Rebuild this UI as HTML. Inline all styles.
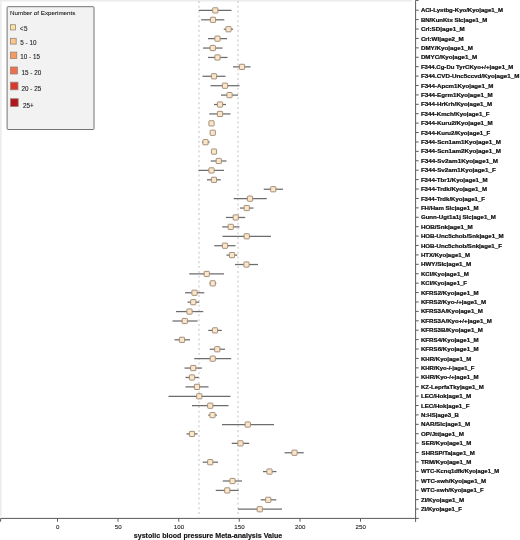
<!DOCTYPE html>
<html><head><meta charset="utf-8"><title>systolic blood pressure Meta-analysis</title>
<style>
html,body{margin:0;padding:0;background:#fff;}
body{width:520px;height:540px;overflow:hidden;}
svg{display:block;}
text{font-family:"Liberation Sans",Arial,Helvetica,sans-serif;fill:#222;}
.lb{font-size:6.0px;font-weight:bold;fill:#111;stroke:#111;stroke-width:0.24px;}
.tk{font-size:6.1px;fill:#222;stroke:#222;stroke-width:0.1px;}
.lg{font-size:6.3px;fill:#1c1c1c;stroke:#1c1c1c;stroke-width:0.1px;}
.ti{font-size:7.1px;font-weight:bold;fill:#111;stroke:#111;stroke-width:0.15px;}
.ci{stroke:#6c6c6c;stroke-width:1.25;}
.bx{fill:#fce6c9;stroke:#a48f7a;stroke-width:1;}
.ax{stroke:#5a5a5a;stroke-width:1;fill:none;}
.dt{stroke:#c4c4c4;stroke-width:1.05;stroke-dasharray:2 2.822;}
</style></head><body>
<svg width="520" height="540" viewBox="0 0 520 540">
<rect x="0" y="0" width="520" height="540" fill="#fff"/>
<rect x="0" y="0" width="412" height="1.5" fill="#ececec"/>
<rect x="0" y="0" width="1.6" height="516.5" fill="#ececec"/>

<line class="dt" x1="199" y1="0.9" x2="199" y2="517"/>
<line class="dt" x1="238" y1="0.9" x2="238" y2="517"/>
<line class="ci" x1="198.80" y1="10.40" x2="231.50" y2="10.40"/>
<rect class="bx" x="212.70" y="7.80" width="5.2" height="5.2" rx="0.6"/>
<line class="ci" x1="201.20" y1="19.81" x2="224.30" y2="19.81"/>
<rect class="bx" x="210.40" y="17.21" width="5.2" height="5.2" rx="0.6"/>
<line class="ci" x1="223.80" y1="29.22" x2="233.00" y2="29.22"/>
<rect class="bx" x="225.90" y="26.62" width="5.2" height="5.2" rx="0.6"/>
<line class="ci" x1="208.00" y1="38.64" x2="227.00" y2="38.64"/>
<rect class="bx" x="214.90" y="36.04" width="5.2" height="5.2" rx="0.6"/>
<line class="ci" x1="203.00" y1="48.05" x2="222.50" y2="48.05"/>
<rect class="bx" x="210.15" y="45.45" width="5.2" height="5.2" rx="0.6"/>
<line class="ci" x1="208.00" y1="57.46" x2="227.50" y2="57.46"/>
<rect class="bx" x="214.90" y="54.86" width="5.2" height="5.2" rx="0.6"/>
<line class="ci" x1="233.00" y1="66.87" x2="250.50" y2="66.87"/>
<rect class="bx" x="239.40" y="64.27" width="5.2" height="5.2" rx="0.6"/>
<line class="ci" x1="202.50" y1="76.28" x2="225.50" y2="76.28"/>
<rect class="bx" x="211.40" y="73.68" width="5.2" height="5.2" rx="0.6"/>
<line class="ci" x1="210.50" y1="85.70" x2="239.50" y2="85.70"/>
<rect class="bx" x="222.40" y="83.10" width="5.2" height="5.2" rx="0.6"/>
<line class="ci" x1="221.00" y1="95.11" x2="238.00" y2="95.11"/>
<rect class="bx" x="226.90" y="92.51" width="5.2" height="5.2" rx="0.6"/>
<line class="ci" x1="214.00" y1="104.52" x2="226.00" y2="104.52"/>
<rect class="bx" x="217.40" y="101.92" width="5.2" height="5.2" rx="0.6"/>
<line class="ci" x1="209.25" y1="113.93" x2="230.50" y2="113.93"/>
<rect class="bx" x="217.40" y="111.33" width="5.2" height="5.2" rx="0.6"/>
<rect class="bx" x="208.90" y="120.74" width="5.2" height="5.2" rx="0.6"/>
<rect class="bx" x="210.15" y="130.16" width="5.2" height="5.2" rx="0.6"/>
<line class="ci" x1="201.90" y1="142.17" x2="209.60" y2="142.17"/>
<rect class="bx" x="202.90" y="139.57" width="5.2" height="5.2" rx="0.6"/>
<rect class="bx" x="211.40" y="148.98" width="5.2" height="5.2" rx="0.6"/>
<line class="ci" x1="210.75" y1="160.99" x2="226.50" y2="160.99"/>
<rect class="bx" x="216.15" y="158.39" width="5.2" height="5.2" rx="0.6"/>
<line class="ci" x1="198.50" y1="170.40" x2="224.00" y2="170.40"/>
<rect class="bx" x="208.90" y="167.80" width="5.2" height="5.2" rx="0.6"/>
<line class="ci" x1="207.00" y1="179.82" x2="220.75" y2="179.82"/>
<rect class="bx" x="211.40" y="177.22" width="5.2" height="5.2" rx="0.6"/>
<line class="ci" x1="263.75" y1="189.23" x2="283.00" y2="189.23"/>
<rect class="bx" x="270.65" y="186.63" width="5.2" height="5.2" rx="0.6"/>
<line class="ci" x1="233.75" y1="198.64" x2="266.75" y2="198.64"/>
<rect class="bx" x="247.40" y="196.04" width="5.2" height="5.2" rx="0.6"/>
<line class="ci" x1="240.00" y1="208.05" x2="253.50" y2="208.05"/>
<rect class="bx" x="244.15" y="205.45" width="5.2" height="5.2" rx="0.6"/>
<line class="ci" x1="226.00" y1="217.46" x2="245.25" y2="217.46"/>
<rect class="bx" x="233.15" y="214.86" width="5.2" height="5.2" rx="0.6"/>
<line class="ci" x1="222.25" y1="226.88" x2="239.50" y2="226.88"/>
<rect class="bx" x="228.15" y="224.28" width="5.2" height="5.2" rx="0.6"/>
<line class="ci" x1="222.50" y1="236.29" x2="271.00" y2="236.29"/>
<rect class="bx" x="244.15" y="233.69" width="5.2" height="5.2" rx="0.6"/>
<line class="ci" x1="214.25" y1="245.70" x2="235.50" y2="245.70"/>
<rect class="bx" x="222.40" y="243.10" width="5.2" height="5.2" rx="0.6"/>
<line class="ci" x1="226.50" y1="255.11" x2="237.25" y2="255.11"/>
<rect class="bx" x="229.40" y="252.51" width="5.2" height="5.2" rx="0.6"/>
<line class="ci" x1="235.00" y1="264.52" x2="258.00" y2="264.52"/>
<rect class="bx" x="243.90" y="261.92" width="5.2" height="5.2" rx="0.6"/>
<line class="ci" x1="189.25" y1="273.94" x2="224.00" y2="273.94"/>
<rect class="bx" x="204.15" y="271.34" width="5.2" height="5.2" rx="0.6"/>
<line class="ci" x1="209.50" y1="283.35" x2="216.25" y2="283.35"/>
<rect class="bx" x="210.15" y="280.75" width="5.2" height="5.2" rx="0.6"/>
<line class="ci" x1="185.00" y1="292.76" x2="204.25" y2="292.76"/>
<rect class="bx" x="191.90" y="290.16" width="5.2" height="5.2" rx="0.6"/>
<line class="ci" x1="187.50" y1="302.17" x2="199.25" y2="302.17"/>
<rect class="bx" x="190.65" y="299.57" width="5.2" height="5.2" rx="0.6"/>
<line class="ci" x1="176.00" y1="311.58" x2="203.25" y2="311.58"/>
<rect class="bx" x="186.90" y="308.98" width="5.2" height="5.2" rx="0.6"/>
<line class="ci" x1="172.50" y1="321.00" x2="197.50" y2="321.00"/>
<rect class="bx" x="182.15" y="318.40" width="5.2" height="5.2" rx="0.6"/>
<line class="ci" x1="208.25" y1="330.41" x2="221.75" y2="330.41"/>
<rect class="bx" x="212.40" y="327.81" width="5.2" height="5.2" rx="0.6"/>
<line class="ci" x1="174.50" y1="339.82" x2="190.00" y2="339.82"/>
<rect class="bx" x="179.40" y="337.22" width="5.2" height="5.2" rx="0.6"/>
<line class="ci" x1="209.75" y1="349.23" x2="225.00" y2="349.23"/>
<rect class="bx" x="214.65" y="346.63" width="5.2" height="5.2" rx="0.6"/>
<line class="ci" x1="194.25" y1="358.64" x2="231.25" y2="358.64"/>
<rect class="bx" x="210.15" y="356.04" width="5.2" height="5.2" rx="0.6"/>
<line class="ci" x1="184.50" y1="368.06" x2="202.00" y2="368.06"/>
<rect class="bx" x="190.65" y="365.46" width="5.2" height="5.2" rx="0.6"/>
<line class="ci" x1="185.50" y1="377.47" x2="198.75" y2="377.47"/>
<rect class="bx" x="189.40" y="374.87" width="5.2" height="5.2" rx="0.6"/>
<line class="ci" x1="185.50" y1="386.88" x2="208.50" y2="386.88"/>
<rect class="bx" x="194.40" y="384.28" width="5.2" height="5.2" rx="0.6"/>
<line class="ci" x1="168.50" y1="396.29" x2="230.50" y2="396.29"/>
<rect class="bx" x="196.65" y="393.69" width="5.2" height="5.2" rx="0.6"/>
<line class="ci" x1="192.00" y1="405.70" x2="228.50" y2="405.70"/>
<rect class="bx" x="207.65" y="403.10" width="5.2" height="5.2" rx="0.6"/>
<line class="ci" x1="208.25" y1="415.12" x2="217.00" y2="415.12"/>
<rect class="bx" x="209.90" y="412.52" width="5.2" height="5.2" rx="0.6"/>
<line class="ci" x1="222.00" y1="424.53" x2="274.00" y2="424.53"/>
<rect class="bx" x="245.15" y="421.93" width="5.2" height="5.2" rx="0.6"/>
<line class="ci" x1="186.50" y1="433.94" x2="197.50" y2="433.94"/>
<rect class="bx" x="189.40" y="431.34" width="5.2" height="5.2" rx="0.6"/>
<line class="ci" x1="231.75" y1="443.35" x2="249.25" y2="443.35"/>
<rect class="bx" x="237.90" y="440.75" width="5.2" height="5.2" rx="0.6"/>
<line class="ci" x1="284.50" y1="452.76" x2="303.75" y2="452.76"/>
<rect class="bx" x="291.90" y="450.16" width="5.2" height="5.2" rx="0.6"/>
<line class="ci" x1="202.75" y1="462.18" x2="218.00" y2="462.18"/>
<rect class="bx" x="207.65" y="459.58" width="5.2" height="5.2" rx="0.6"/>
<line class="ci" x1="263.00" y1="471.59" x2="276.50" y2="471.59"/>
<rect class="bx" x="266.90" y="468.99" width="5.2" height="5.2" rx="0.6"/>
<line class="ci" x1="222.75" y1="481.00" x2="242.00" y2="481.00"/>
<rect class="bx" x="229.90" y="478.40" width="5.2" height="5.2" rx="0.6"/>
<line class="ci" x1="215.75" y1="490.41" x2="238.75" y2="490.41"/>
<rect class="bx" x="224.65" y="487.81" width="5.2" height="5.2" rx="0.6"/>
<line class="ci" x1="260.75" y1="499.82" x2="276.25" y2="499.82"/>
<rect class="bx" x="265.65" y="497.22" width="5.2" height="5.2" rx="0.6"/>
<line class="ci" x1="238.00" y1="509.24" x2="282.00" y2="509.24"/>
<rect class="bx" x="257.15" y="506.64" width="5.2" height="5.2" rx="0.6"/>
<path class="ax" d="M0.6 521.7V518.4H418.8"/>
<path class="ax" d="M418.6 0.4H415.6V521.9"/>
<line class="ax" x1="57.5" y1="518.4" x2="57.5" y2="521.7"/>
<text class="tk" x="57.7" y="528.5" text-anchor="middle">0</text>
<line class="ax" x1="118" y1="518.4" x2="118" y2="521.7"/>
<text class="tk" x="118.2" y="528.5" text-anchor="middle">50</text>
<line class="ax" x1="178.75" y1="518.4" x2="178.75" y2="521.7"/>
<text class="tk" x="178.95" y="528.5" text-anchor="middle">100</text>
<line class="ax" x1="239.25" y1="518.4" x2="239.25" y2="521.7"/>
<text class="tk" x="239.45" y="528.5" text-anchor="middle">150</text>
<line class="ax" x1="300" y1="518.4" x2="300" y2="521.7"/>
<text class="tk" x="300.2" y="528.5" text-anchor="middle">200</text>
<line class="ax" x1="360.5" y1="518.4" x2="360.5" y2="521.7"/>
<text class="tk" x="360.7" y="528.5" text-anchor="middle">250</text>
<line class="ax" x1="415.6" y1="10.20" x2="418.7" y2="10.20"/>
<text class="lb" x="420.9" y="12.30" textLength="82.1" lengthAdjust="spacingAndGlyphs">ACI-Lystbg-Kyo/Kyo|age1_M</text>
<line class="ax" x1="415.6" y1="19.61" x2="418.7" y2="19.61"/>
<text class="lb" x="420.9" y="21.71" textLength="66.4" lengthAdjust="spacingAndGlyphs">BN/KunKts Slc|age1_M</text>
<line class="ax" x1="415.6" y1="29.02" x2="418.7" y2="29.02"/>
<text class="lb" x="420.9" y="31.12" textLength="43.9" lengthAdjust="spacingAndGlyphs">Crl:SD|age1_M</text>
<line class="ax" x1="415.6" y1="38.44" x2="418.7" y2="38.44"/>
<text class="lb" x="420.9" y="40.54" textLength="42.8" lengthAdjust="spacingAndGlyphs">Crl:WI|age2_M</text>
<line class="ax" x1="415.6" y1="47.85" x2="418.7" y2="47.85"/>
<text class="lb" x="420.9" y="49.95" textLength="52.0" lengthAdjust="spacingAndGlyphs">DMY/Kyo|age1_M</text>
<line class="ax" x1="415.6" y1="57.26" x2="418.7" y2="57.26"/>
<text class="lb" x="420.9" y="59.36" textLength="56.2" lengthAdjust="spacingAndGlyphs">DMYC/Kyo|age1_M</text>
<line class="ax" x1="415.6" y1="66.67" x2="418.7" y2="66.67"/>
<text class="lb" x="420.9" y="68.77" textLength="92.5" lengthAdjust="spacingAndGlyphs">F344.Cg-Du TyrCKyo+/+|age1_M</text>
<line class="ax" x1="415.6" y1="76.08" x2="418.7" y2="76.08"/>
<text class="lb" x="420.9" y="78.18" textLength="98.5" lengthAdjust="spacingAndGlyphs">F344.CVD-Unc5ccvd/Kyo|age1_M</text>
<line class="ax" x1="415.6" y1="85.50" x2="418.7" y2="85.50"/>
<text class="lb" x="420.9" y="87.60" textLength="72.6" lengthAdjust="spacingAndGlyphs">F344-Apcm1Kyo|age1_M</text>
<line class="ax" x1="415.6" y1="94.91" x2="418.7" y2="94.91"/>
<text class="lb" x="420.9" y="97.01" textLength="71.7" lengthAdjust="spacingAndGlyphs">F344-Egrm1Kyo|age1_M</text>
<line class="ax" x1="415.6" y1="104.32" x2="418.7" y2="104.32"/>
<text class="lb" x="420.9" y="106.42" textLength="71.2" lengthAdjust="spacingAndGlyphs">F344-HrKrh/Kyo|age1_M</text>
<line class="ax" x1="415.6" y1="113.73" x2="418.7" y2="113.73"/>
<text class="lb" x="420.9" y="115.83" textLength="68.5" lengthAdjust="spacingAndGlyphs">F344-Kmch/Kyo|age1_F</text>
<line class="ax" x1="415.6" y1="123.14" x2="418.7" y2="123.14"/>
<text class="lb" x="420.9" y="125.24" textLength="71.7" lengthAdjust="spacingAndGlyphs">F344-Kuru2/Kyo|age1_M</text>
<line class="ax" x1="415.6" y1="132.56" x2="418.7" y2="132.56"/>
<text class="lb" x="420.9" y="134.66" textLength="69.4" lengthAdjust="spacingAndGlyphs">F344-Kuru2/Kyo|age1_F</text>
<line class="ax" x1="415.6" y1="141.97" x2="418.7" y2="141.97"/>
<text class="lb" x="420.9" y="144.07" textLength="80.0" lengthAdjust="spacingAndGlyphs">F344-Scn1am1Kyo|age1_M</text>
<line class="ax" x1="415.6" y1="151.38" x2="418.7" y2="151.38"/>
<text class="lb" x="420.9" y="153.48" textLength="80.0" lengthAdjust="spacingAndGlyphs">F344-Scn1am2Kyo|age1_M</text>
<line class="ax" x1="415.6" y1="160.79" x2="418.7" y2="160.79"/>
<text class="lb" x="420.9" y="162.89" textLength="77.0" lengthAdjust="spacingAndGlyphs">F344-Sv2am1Kyo|age1_M</text>
<line class="ax" x1="415.6" y1="170.20" x2="418.7" y2="170.20"/>
<text class="lb" x="420.9" y="172.30" textLength="74.9" lengthAdjust="spacingAndGlyphs">F344-Sv2am1Kyo|age1_F</text>
<line class="ax" x1="415.6" y1="179.62" x2="418.7" y2="179.62"/>
<text class="lb" x="420.9" y="181.72" textLength="66.6" lengthAdjust="spacingAndGlyphs">F344-Tbr1/Kyo|age1_M</text>
<line class="ax" x1="415.6" y1="189.03" x2="418.7" y2="189.03"/>
<text class="lb" x="420.9" y="191.13" textLength="66.1" lengthAdjust="spacingAndGlyphs">F344-Trdk/Kyo|age1_M</text>
<line class="ax" x1="415.6" y1="198.44" x2="418.7" y2="198.44"/>
<text class="lb" x="420.9" y="200.54" textLength="64.1" lengthAdjust="spacingAndGlyphs">F344-Trdk/Kyo|age1_F</text>
<line class="ax" x1="415.6" y1="207.85" x2="418.7" y2="207.85"/>
<text class="lb" x="420.9" y="209.95" textLength="57.8" lengthAdjust="spacingAndGlyphs">FH/Ham Slc|age1_M</text>
<line class="ax" x1="415.6" y1="217.26" x2="418.7" y2="217.26"/>
<text class="lb" x="420.9" y="219.36" textLength="74.9" lengthAdjust="spacingAndGlyphs">Gunn-Ugt1a1j Slc|age1_M</text>
<line class="ax" x1="415.6" y1="226.68" x2="418.7" y2="226.68"/>
<text class="lb" x="420.9" y="228.78" textLength="51.8" lengthAdjust="spacingAndGlyphs">HOB/Snk|age1_M</text>
<line class="ax" x1="415.6" y1="236.09" x2="418.7" y2="236.09"/>
<text class="lb" x="420.9" y="238.19" textLength="82.8" lengthAdjust="spacingAndGlyphs">HOB-Unc5chob/Snk|age1_M</text>
<line class="ax" x1="415.6" y1="245.50" x2="418.7" y2="245.50"/>
<text class="lb" x="420.9" y="247.60" textLength="81.0" lengthAdjust="spacingAndGlyphs">HOB-Unc5chob/Snk|age1_F</text>
<line class="ax" x1="415.6" y1="254.91" x2="418.7" y2="254.91"/>
<text class="lb" x="420.9" y="257.01" textLength="49.2" lengthAdjust="spacingAndGlyphs">HTX/Kyo|age1_M</text>
<line class="ax" x1="415.6" y1="264.32" x2="418.7" y2="264.32"/>
<text class="lb" x="420.9" y="266.42" textLength="50.4" lengthAdjust="spacingAndGlyphs">HWY/Slc|age1_M</text>
<line class="ax" x1="415.6" y1="273.74" x2="418.7" y2="273.74"/>
<text class="lb" x="420.9" y="275.84" textLength="47.9" lengthAdjust="spacingAndGlyphs">KCI/Kyo|age1_M</text>
<line class="ax" x1="415.6" y1="283.15" x2="418.7" y2="283.15"/>
<text class="lb" x="420.9" y="285.25" textLength="46.2" lengthAdjust="spacingAndGlyphs">KCI/Kyo|age1_F</text>
<line class="ax" x1="415.6" y1="292.56" x2="418.7" y2="292.56"/>
<text class="lb" x="420.9" y="294.66" textLength="57.8" lengthAdjust="spacingAndGlyphs">KFRS2/Kyo|age1_M</text>
<line class="ax" x1="415.6" y1="301.97" x2="418.7" y2="301.97"/>
<text class="lb" x="420.9" y="304.07" textLength="65.2" lengthAdjust="spacingAndGlyphs">KFRS2/Kyo-/+|age1_M</text>
<line class="ax" x1="415.6" y1="311.38" x2="418.7" y2="311.38"/>
<text class="lb" x="420.9" y="313.48" textLength="62.0" lengthAdjust="spacingAndGlyphs">KFRS3A/Kyo|age1_M</text>
<line class="ax" x1="415.6" y1="320.80" x2="418.7" y2="320.80"/>
<text class="lb" x="420.9" y="322.90" textLength="71.0" lengthAdjust="spacingAndGlyphs">KFRS3A/Kyo+/+|age1_M</text>
<line class="ax" x1="415.6" y1="330.21" x2="418.7" y2="330.21"/>
<text class="lb" x="420.9" y="332.31" textLength="62.0" lengthAdjust="spacingAndGlyphs">KFRS3B/Kyo|age1_M</text>
<line class="ax" x1="415.6" y1="339.62" x2="418.7" y2="339.62"/>
<text class="lb" x="420.9" y="341.72" textLength="57.8" lengthAdjust="spacingAndGlyphs">KFRS4/Kyo|age1_M</text>
<line class="ax" x1="415.6" y1="349.03" x2="418.7" y2="349.03"/>
<text class="lb" x="420.9" y="351.13" textLength="57.8" lengthAdjust="spacingAndGlyphs">KFRS6/Kyo|age1_M</text>
<line class="ax" x1="415.6" y1="358.44" x2="418.7" y2="358.44"/>
<text class="lb" x="420.9" y="360.54" textLength="50.4" lengthAdjust="spacingAndGlyphs">KHR/Kyo|age1_M</text>
<line class="ax" x1="415.6" y1="367.86" x2="418.7" y2="367.86"/>
<text class="lb" x="420.9" y="369.96" textLength="53.6" lengthAdjust="spacingAndGlyphs">KHR/Kyo-/-|age1_F</text>
<line class="ax" x1="415.6" y1="377.27" x2="418.7" y2="377.27"/>
<text class="lb" x="420.9" y="379.37" textLength="57.8" lengthAdjust="spacingAndGlyphs">KHR/Kyo-/+|age1_M</text>
<line class="ax" x1="415.6" y1="386.68" x2="418.7" y2="386.68"/>
<text class="lb" x="420.9" y="388.78" textLength="62.9" lengthAdjust="spacingAndGlyphs">KZ-LeprfaTky|age1_M</text>
<line class="ax" x1="415.6" y1="396.09" x2="418.7" y2="396.09"/>
<text class="lb" x="420.9" y="398.19" textLength="50.4" lengthAdjust="spacingAndGlyphs">LEC/Hok|age1_M</text>
<line class="ax" x1="415.6" y1="405.50" x2="418.7" y2="405.50"/>
<text class="lb" x="420.9" y="407.60" textLength="48.5" lengthAdjust="spacingAndGlyphs">LEC/Hok|age1_F</text>
<line class="ax" x1="415.6" y1="414.92" x2="418.7" y2="414.92"/>
<text class="lb" x="420.9" y="417.02" textLength="38.1" lengthAdjust="spacingAndGlyphs">N:HS|age3_B</text>
<line class="ax" x1="415.6" y1="424.33" x2="418.7" y2="424.33"/>
<text class="lb" x="420.9" y="426.43" textLength="49.2" lengthAdjust="spacingAndGlyphs">NAR/Slc|age1_M</text>
<line class="ax" x1="415.6" y1="433.74" x2="418.7" y2="433.74"/>
<text class="lb" x="420.9" y="435.84" textLength="43.0" lengthAdjust="spacingAndGlyphs">OP/Jtt|age1_M</text>
<line class="ax" x1="415.6" y1="443.15" x2="418.7" y2="443.15"/>
<text class="lb" x="421.6" y="445.25" textLength="49.7" lengthAdjust="spacingAndGlyphs">SER/Kyo|age1_M</text>
<line class="ax" x1="415.6" y1="452.56" x2="418.7" y2="452.56"/>
<text class="lb" x="421.6" y="454.66" textLength="53.2" lengthAdjust="spacingAndGlyphs">SHRSP/Ta|age1_M</text>
<line class="ax" x1="415.6" y1="461.98" x2="418.7" y2="461.98"/>
<text class="lb" x="420.9" y="464.08" textLength="50.4" lengthAdjust="spacingAndGlyphs">TRM/Kyo|age1_M</text>
<line class="ax" x1="415.6" y1="471.39" x2="418.7" y2="471.39"/>
<text class="lb" x="420.9" y="473.49" textLength="78.2" lengthAdjust="spacingAndGlyphs">WTC-Kcnq1dfk/Kyo|age1_M</text>
<line class="ax" x1="415.6" y1="480.80" x2="418.7" y2="480.80"/>
<text class="lb" x="420.9" y="482.90" textLength="65.2" lengthAdjust="spacingAndGlyphs">WTC-swh/Kyo|age1_M</text>
<line class="ax" x1="415.6" y1="490.21" x2="418.7" y2="490.21"/>
<text class="lb" x="420.9" y="492.31" textLength="62.9" lengthAdjust="spacingAndGlyphs">WTC-swh/Kyo|age1_F</text>
<line class="ax" x1="415.6" y1="499.62" x2="418.7" y2="499.62"/>
<text class="lb" x="420.9" y="501.72" textLength="43.2" lengthAdjust="spacingAndGlyphs">ZI/Kyo|age1_M</text>
<line class="ax" x1="415.6" y1="509.04" x2="418.7" y2="509.04"/>
<text class="lb" x="420.9" y="511.14" textLength="41.1" lengthAdjust="spacingAndGlyphs">ZI/Kyo|age1_F</text>
<text class="ti" x="133.8" y="538.0" textLength="148.4" lengthAdjust="spacingAndGlyphs">systolic blood pressure Meta-analysis Value</text>
<rect x="7.1" y="6.7" width="86.9" height="122.8" rx="0.8" fill="#f2f2f2" stroke="#747474" stroke-width="1"/>
<text class="lg" x="10" y="15.2" style="font-size:6px" textLength="65.4" lengthAdjust="spacingAndGlyphs">Number of Experiments</text>
<rect x="10.4" y="24.70" width="5.2" height="5.2" fill="#f6e3a6" stroke="#9a8674" stroke-width="0.8"/>
<text class="lg" x="19.7" y="30.60" textLength="7.7" lengthAdjust="spacing">&lt; 5</text>
<rect x="10.4" y="38.30" width="5.8" height="5.8" fill="#fbc58c" stroke="#9a8674" stroke-width="0.8"/>
<text class="lg" x="20.3" y="44.60">5 - 10</text>
<rect x="10.4" y="52.10" width="6.4" height="6.4" fill="#f79a62" stroke="#9a8674" stroke-width="0.8"/>
<text class="lg" x="20.3" y="58.80">10 - 15</text>
<rect x="10.4" y="67.00" width="7.0" height="7.0" fill="#ee6f4c" stroke="#9a8674" stroke-width="0.8"/>
<text class="lg" x="21.6" y="75.10">15 - 20</text>
<rect x="10.4" y="82.20" width="7.6" height="7.6" fill="#d9382c" stroke="#9a8674" stroke-width="0.8"/>
<text class="lg" x="21.6" y="90.90">20 - 25</text>
<rect x="10.4" y="98.70" width="7.8" height="7.8" fill="#b0181e" stroke="#9a8674" stroke-width="0.8"/>
<text class="lg" x="23" y="107.60">25+</text>
</svg></body></html>
